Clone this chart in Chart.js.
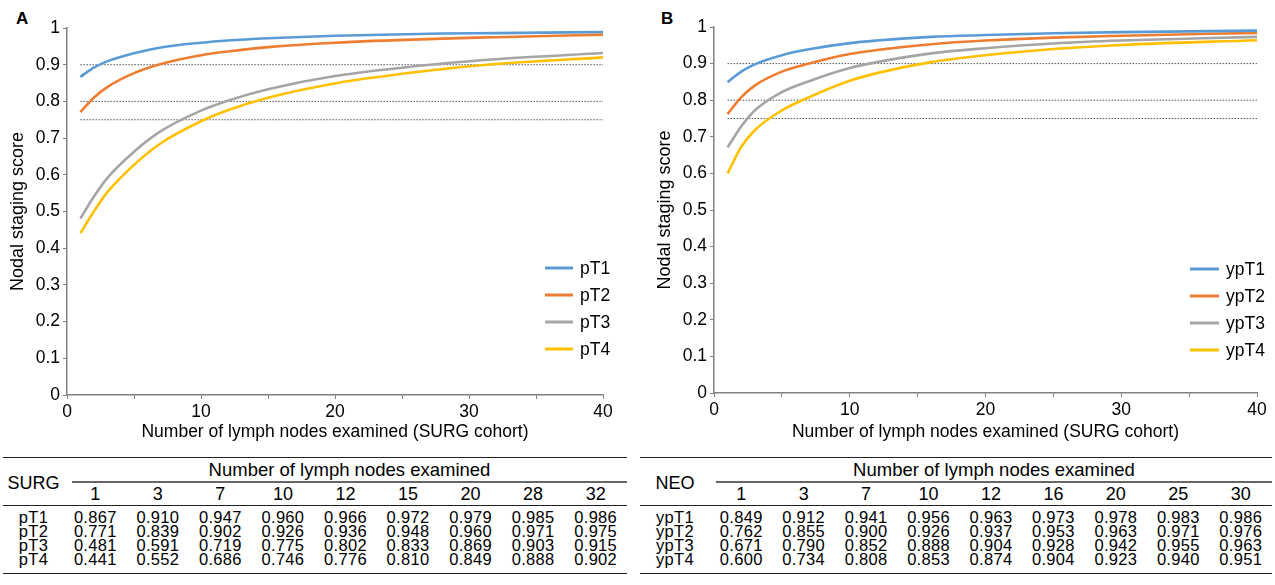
<!DOCTYPE html>
<html>
<head>
<meta charset="utf-8">
<script src="https://cdn.jsdelivr.net/npm/chart.js@4.4.1/dist/chart.umd.min.js"></script>
<style>
body { margin:0; background:#fff; width:1275px; height:585px; position:relative; overflow:hidden; font-family:'Liberation Sans', Arial, sans-serif; color:#000; }
canvas { position:absolute; top:0; }
.tag { position:absolute; font-weight:bold; font-size:17px; line-height:17px; }
table { position:absolute; top:457px; border-collapse:collapse; table-layout:fixed; font-size:16.5px; border-top:1.5px solid #222; border-bottom:1.5px solid #222; }
td { padding:0; text-align:center; white-space:nowrap; }
tr.h1 td { height:25px; line-height:25px; }
tr.h1 td.span div { height:23px; line-height:23px; border-bottom:2.5px solid #666; font-size:18.5px; }
tr.h2 td { height:22px; line-height:20px; border-bottom:1.5px solid #222; font-size:18px; }
td.lbl { border-bottom:1.5px solid #222; vertical-align:middle; padding-top:4px; font-size:18px; }
tr.r td { line-height:14px; height:14px; letter-spacing:0.3px; }
tr.first td { padding-top:4px; }
tr.last td { padding-bottom:7px; }
</style>
</head>
<body>
<div class="tag" style="left:16px;top:10px">A</div>
<div class="tag" style="left:661px;top:10px">B</div>
<canvas id="chartA" width="630" height="445" style="left:0px"></canvas>
<canvas id="chartB" width="635" height="445" style="left:640px"></canvas>
<table id="tableA" style="left:3px;width:624px"></table>
<table id="tableB" style="left:640px;width:632px"></table>

<script>
// SURG cohort, table values (x = number of lymph nodes examined)
const surgNodes = [1, 3, 7, 10, 12, 15, 20, 28, 32]
const surgNames = ['pT1', 'pT2', 'pT3', 'pT4']
const pT1 = [0.867, 0.910, 0.947, 0.960, 0.966, 0.972, 0.979, 0.985, 0.986]
const pT2 = [0.771, 0.839, 0.902, 0.926, 0.936, 0.948, 0.960, 0.971, 0.975]
const pT3 = [0.481, 0.591, 0.719, 0.775, 0.802, 0.833, 0.869, 0.903, 0.915]
const pT4 = [0.441, 0.552, 0.686, 0.746, 0.776, 0.810, 0.849, 0.888, 0.902]

// SURG cohort, points
const surgCurveNodes = [1, 2, 3, 5, 7, 10, 12, 15, 20, 28, 32, 40]
const pT1Curve = [0.867, 0.892, 0.909, 0.931, 0.947, 0.960, 0.966, 0.972, 0.979, 0.985, 0.986, 0.989]
const pT2Curve = [0.771, 0.810, 0.839, 0.877, 0.902, 0.926, 0.936, 0.948, 0.960, 0.971, 0.975, 0.982]
const pT3Curve = [0.481, 0.540, 0.591, 0.663, 0.719, 0.775, 0.802, 0.833, 0.869, 0.903, 0.915, 0.932]
const pT4Curve = [0.441, 0.500, 0.552, 0.627, 0.686, 0.746, 0.776, 0.810, 0.849, 0.888, 0.902, 0.920]

// NEO cohort, table values
const neoNodes = [1, 3, 7, 10, 12, 16, 20, 25, 30]
const neoNames = ['ypT1', 'ypT2', 'ypT3', 'ypT4']
const ypT1 = [0.849, 0.912, 0.941, 0.956, 0.963, 0.973, 0.978, 0.983, 0.986]
const ypT2 = [0.762, 0.855, 0.900, 0.926, 0.937, 0.953, 0.963, 0.971, 0.976]
const ypT3 = [0.671, 0.790, 0.852, 0.888, 0.904, 0.928, 0.942, 0.955, 0.963]
const ypT4 = [0.600, 0.734, 0.808, 0.853, 0.874, 0.904, 0.923, 0.940, 0.951]

// NEO cohort, points
const neoCurveNodes = [1, 2, 3, 5, 7, 10, 12, 16, 20, 25, 30, 40]
const ypT1Curve = [0.849, 0.878, 0.898, 0.923, 0.939, 0.956, 0.963, 0.973, 0.978, 0.983, 0.986, 0.990]
const ypT2Curve = [0.762, 0.808, 0.840, 0.878, 0.900, 0.926, 0.937, 0.953, 0.963, 0.971, 0.976, 0.984]
const ypT3Curve = [0.671, 0.728, 0.772, 0.822, 0.852, 0.888, 0.904, 0.928, 0.942, 0.955, 0.963, 0.973]
const ypT4Curve = [0.600, 0.672, 0.718, 0.772, 0.808, 0.853, 0.874, 0.904, 0.923, 0.940, 0.951, 0.964]

// dotted reference levels, drawn from x=1 to x=40
const refLevels = [0.9, 0.8, 0.75]
const refSpan = [1, 40]

const seriesColors = ['#5b9bd5', '#ed7d31', '#a5a5a5', '#ffc000']
const fontFamily = "'Liberation Sans', Arial, sans-serif"

Chart.defaults.font.family = fontFamily
Chart.defaults.font.size = 17.5
Chart.defaults.color = '#000'

function buildDatasets(nodes, names, values) {
    var ds = names.map((name, i) => ({
        label: name,
        data: nodes.map((x, j) => ({x: x, y: values[i][j]})),
        borderColor: seriesColors[i],
        borderWidth: 2.6,
        pointRadius: 0,
        cubicInterpolationMode: 'monotone',
        fill: false,
        order: 0,
    }))
    for (const v of refLevels) {
        ds.push({
            label: 'ref',
            data: refSpan.map(x => ({x: x, y: v})),
            borderColor: '#555',
            borderWidth: 1,
            borderDash: [1.5, 1.5],
            pointRadius: 0,
            order: 1,
            hideInLegend: true,
        })
    }
    return ds
}

// legend drawn inside the plot, to the lower right
const sideLegend = {
    id: 'sideLegend',
    afterDraw(chart, args, opts) {
        const ctx = chart.ctx
        const area = chart.chartArea
        ctx.save()
        ctx.font = '17.5px ' + fontFamily
        ctx.textBaseline = 'middle'
        chart.data.datasets.filter(d => !d.hideInLegend).forEach((d, i) => {
            const y = area.bottom - opts.bottom + i * opts.gap
            const x0 = area.right - opts.right
            ctx.strokeStyle = d.borderColor
            ctx.lineWidth = 3
            ctx.beginPath()
            ctx.moveTo(x0, y)
            ctx.lineTo(x0 + opts.lineLen, y)
            ctx.stroke()
            ctx.fillStyle = '#000'
            ctx.fillText(d.label, x0 + opts.lineLen + 7, y + 1)
        })
        ctx.restore()
    }
}

function makeChart(id, datasets, cfg) {
    return new Chart(document.getElementById(id), {
        type: 'line',
        data: {datasets: datasets},
        plugins: [sideLegend],
        options: {
            responsive: false,
            animation: false,
            devicePixelRatio: 1,
            layout: {padding: {top: cfg.padTop, right: cfg.padRight, bottom: 0, left: 0}},
            plugins: {
                legend: {display: false},
                tooltip: {enabled: false},
                sideLegend: cfg.legend,
            },
            scales: {
                x: {
                    type: 'linear',
                    min: 0,
                    max: 40,
                    ticks: {stepSize: 5, padding: 3, maxRotation: 0, callback: v => v % 10 === 0 ? v : ''},
                    grid: {drawOnChartArea: false, color: '#808080', tickLength: 4},
                    border: {color: '#808080', width: 1.5},
                    title: {display: true, text: 'Number of lymph nodes examined (SURG cohort)', font: {size: 17.5}, padding: {top: 0, bottom: 2}},
                    afterFit: s => { s.height = cfg.xHeight },
                },
                y: {
                    min: 0,
                    max: 1,
                    ticks: {stepSize: 0.1, padding: 3, callback: v => String(+v.toFixed(1))},
                    grid: {drawOnChartArea: false, color: '#808080', tickLength: 4},
                    border: {color: '#808080', width: 1.5},
                    title: {display: true, text: 'Nodal staging score', font: {size: 18}, padding: {top: cfg.yTitlePad, bottom: 0}},
                    afterFit: s => { s.width = cfg.yWidth },
                },
            },
        },
    })
}

makeChart('chartA', buildDatasets(surgCurveNodes, surgNames, [pT1Curve, pT2Curve, pT3Curve, pT4Curve]), {
    padTop: 28, padRight: 27, xHeight: 50, yWidth: 67, yTitlePad: 7,
    legend: {right: 58, bottom: 127, gap: 27, lineLen: 28},
})
makeChart('chartB', buildDatasets(neoCurveNodes, neoNames, [ypT1Curve, ypT2Curve, ypT3Curve, ypT4Curve]), {
    padTop: 27, padRight: 18, xHeight: 52, yWidth: 74, yTitlePad: 14,
    legend: {right: 67, bottom: 124, gap: 27, lineLen: 29},
})

function buildTable(id, cohort, labelWidth, ulGap, nodes, names, values) {
    const cols = nodes.length
    const colW = (parseFloat(document.getElementById(id).style.width) - labelWidth) / cols
    var html = '<colgroup><col style="width:' + labelWidth + 'px">'
    for (var i = 0; i < cols; i++) html += '<col style="width:' + colW + 'px">'
    html += '</colgroup>'
    html += '<tr class="h1"><td class="lbl" rowspan="2">' + cohort + '</td><td class="span" colspan="' + cols +
        '"><div style="margin-left:' + ulGap + 'px">Number of lymph nodes examined</div></td></tr>'
    html += '<tr class="h2">' + nodes.map(n => '<td>' + n + '</td>').join('') + '</tr>'
    names.forEach((name, i) => {
        var cls = 'r' + (i === 0 ? ' first' : '') + (i === names.length - 1 ? ' last' : '')
        html += '<tr class="' + cls + '"><td>' + name + '</td>' +
            values[i].map(v => '<td>' + v.toFixed(3) + '</td>').join('') + '</tr>'
    })
    document.getElementById(id).innerHTML = html
}

buildTable('tableA', 'SURG', 61, 8, surgNodes, surgNames, [pT1, pT2, pT3, pT4])
buildTable('tableB', 'NEO', 70, 6, neoNodes, neoNames, [ypT1, ypT2, ypT3, ypT4])
</script>
</body>
</html>
